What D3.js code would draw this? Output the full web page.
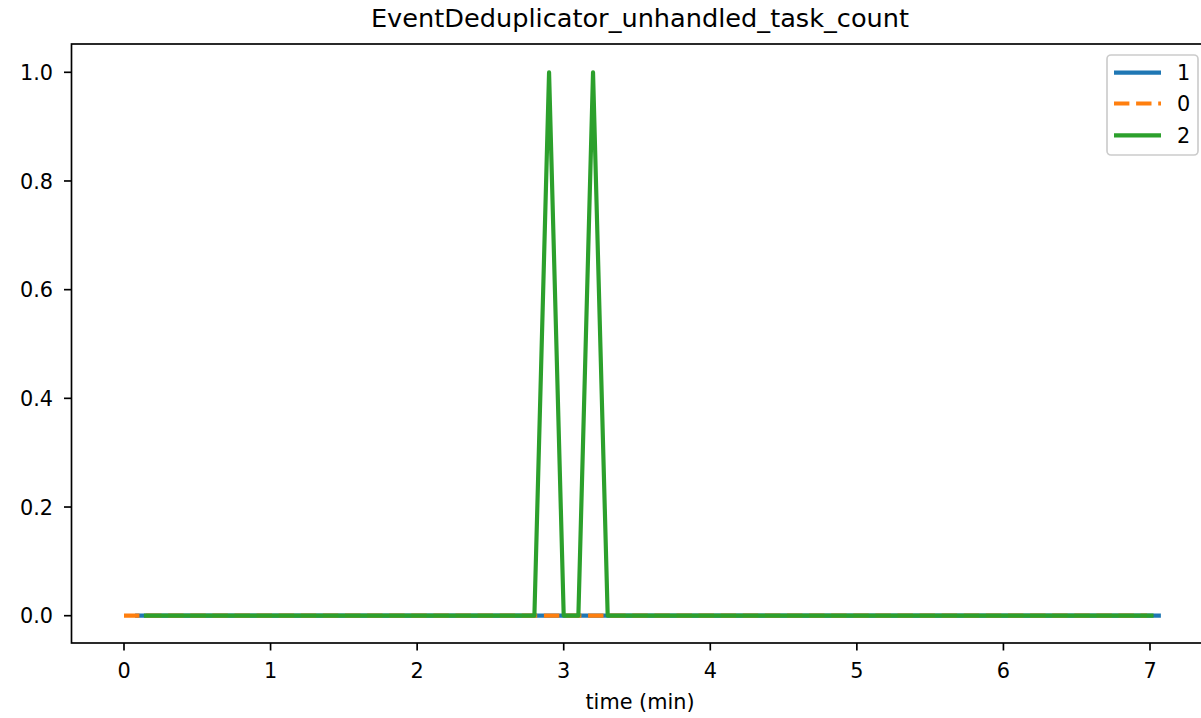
<!DOCTYPE html>
<html>
<head>
<meta charset="utf-8">
<script src="https://cdn.jsdelivr.net/npm/d3@7"></script>
<style>
  html, body { margin: 0; padding: 0; background: #fff; }
  svg { display: block; font-family: "DejaVu Sans", sans-serif; }
</style>
</head>
<body>
<svg id="chart" width="1201" height="718"></svg>
<script>
// ---- data ----
const chartTitle = "EventDeduplicator_unhandled_task_count";
const xLabel = "time (min)";
const xTicks = [0, 1, 2, 3, 4, 5, 6, 7];
const yTicks = [0.0, 0.2, 0.4, 0.6, 0.8, 1.0];
const seriesNames = ["1", "0", "2"];
const time1 = [0.09, 7.06];
const value1 = [0, 0];
const time0 = [0.0, 6.98];
const value0 = [0, 0];
const time2 = [0.15, 2.8, 2.9, 3.0, 3.1, 3.2, 3.3, 7.01];
const value2 = [0, 0, 1, 0, 0, 1, 0, 0];

// ---- layout ----
const svg = d3.select("#chart");
const plot = { left: 71.5, top: 44, bottom: 643, right: 1210 };
const x = d3.scaleLinear().domain([0, 7]).range([124, 1150]);
const y = d3.scaleLinear().domain([0, 1]).range([615.7, 72.3]);

const colors = ["#1f77b4", "#ff7f0e", "#2ca02c"];
const dashes = [null, "15.4,6.7", null];
const series = [
  { name: seriesNames[0], t: time1, v: value1 },
  { name: seriesNames[1], t: time0, v: value0 },
  { name: seriesNames[2], t: time2, v: value2 }
];

const lw = 4.17;
const line = d3.line().x(d => x(d[0])).y(d => y(d[1]));

const gLines = svg.append("g");
series.forEach((s, i) => {
  const pts = s.t.map((t, j) => [t, s.v[j]]);
  gLines.append("path")
    .attr("d", line(pts))
    .attr("fill", "none")
    .attr("stroke", colors[i])
    .attr("stroke-width", lw)
    .attr("stroke-linejoin", "round")
    .attr("stroke-linecap", dashes[i] ? "butt" : "square")
    .attr("stroke-dasharray", dashes[i]);
});

// ---- axes frame ----
const axW = 1.67;
svg.append("rect")
  .attr("x", plot.left).attr("y", plot.top)
  .attr("width", plot.right - plot.left).attr("height", plot.bottom - plot.top)
  .attr("fill", "none").attr("stroke", "#000").attr("stroke-width", axW);

const tickLen = 7.5;
const fs = 20.8;

// x axis
const gx = svg.append("g");
xTicks.forEach(t => {
  gx.append("line")
    .attr("x1", x(t)).attr("x2", x(t))
    .attr("y1", plot.bottom).attr("y2", plot.bottom + tickLen)
    .attr("stroke", "#000").attr("stroke-width", axW);
  gx.append("text")
    .attr("x", x(t)).attr("y", 678)
    .attr("text-anchor", "middle")
    .attr("font-size", fs)
    .text(d3.format("d")(t));
});

// y axis
const gy = svg.append("g");
yTicks.forEach(t => {
  gy.append("line")
    .attr("x1", plot.left - tickLen).attr("x2", plot.left)
    .attr("y1", y(t)).attr("y2", y(t))
    .attr("stroke", "#000").attr("stroke-width", axW);
  gy.append("text")
    .attr("x", 53).attr("y", y(t) + 7.6)
    .attr("text-anchor", "end")
    .attr("font-size", fs)
    .text(d3.format(".1f")(t));
});

// labels
svg.append("text")
  .attr("x", 640).attr("y", 709)
  .attr("text-anchor", "middle").attr("font-size", fs)
  .text(xLabel);
svg.append("text")
  .attr("x", 640).attr("y", 27)
  .attr("text-anchor", "middle").attr("font-size", 25.6)
  .text(chartTitle);

// legend
const lg = svg.append("g");
lg.append("rect")
  .attr("x", 1107).attr("y", 55).attr("width", 91).attr("height", 100)
  .attr("rx", 4).attr("ry", 4)
  .attr("fill", "#fff").attr("fill-opacity", 0.8)
  .attr("stroke", "#cccccc").attr("stroke-width", 1.67);
const legY = [72.7, 103.5, 135.3];
series.forEach((s, i) => {
  lg.append("line")
    .attr("x1", 1114).attr("x2", 1161)
    .attr("y1", legY[i]).attr("y2", legY[i])
    .attr("stroke", colors[i]).attr("stroke-width", lw)
    .attr("stroke-linecap", "butt")
    .attr("stroke-dasharray", dashes[i]);
  lg.append("text")
    .attr("x", 1177).attr("y", legY[i] + 7.6)
    .attr("font-size", fs)
    .text(s.name);
});
</script>
</body>
</html>
